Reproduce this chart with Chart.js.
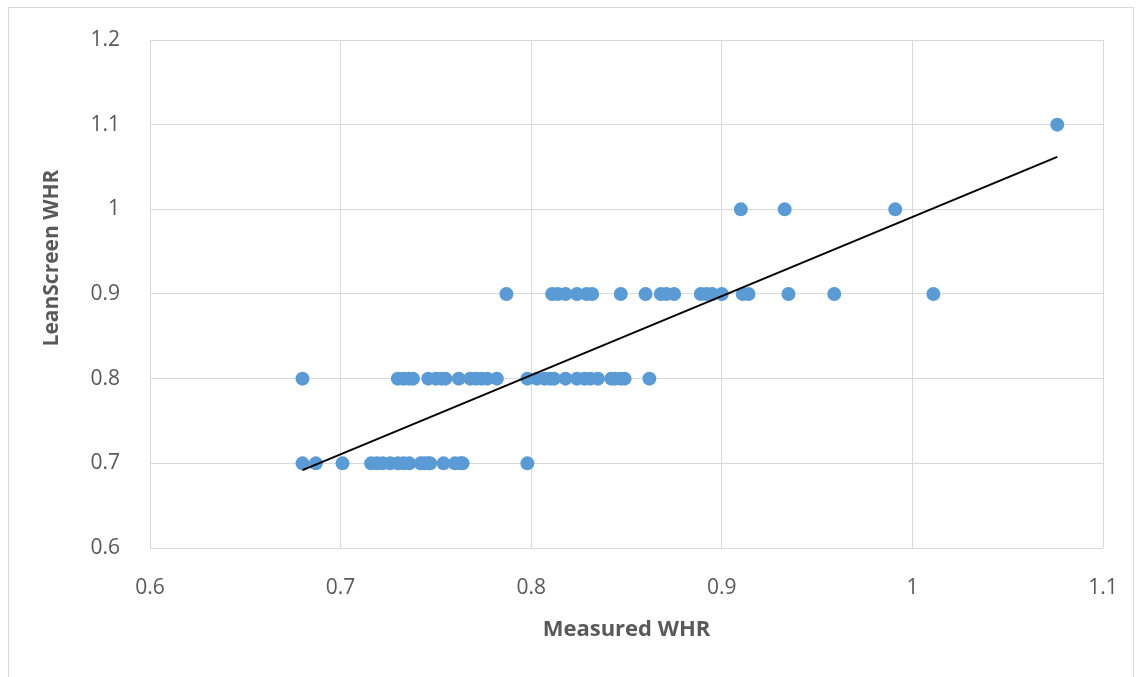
<!DOCTYPE html>
<html>
<head>
<meta charset="utf-8">
<script src="https://cdn.jsdelivr.net/npm/chart.js@4/dist/chart.umd.min.js"></script>
<style>
  html, body { margin: 0; padding: 0; background: #fff; }
  #wrap { position: relative; width: 1139px; height: 677px; }
</style>
</head>
<body>
<div id="wrap"><canvas id="chart" width="1139" height="677"></canvas></div>
<script>
// measured WHR (x) and LeanScreen WHR (y), one entry per person
const measuredWHR = [
  0.680, 0.687, 0.701, 0.716, 0.719, 0.722, 0.726, 0.730, 0.733, 0.736,
  0.742, 0.744, 0.746, 0.747, 0.754, 0.760, 0.763, 0.764, 0.798,
  0.680, 0.730, 0.733, 0.736, 0.738, 0.746, 0.750, 0.753, 0.755, 0.762,
  0.768, 0.771, 0.774, 0.777, 0.782, 0.798, 0.803, 0.807, 0.810, 0.812,
  0.818, 0.824, 0.828, 0.831, 0.835, 0.842, 0.844, 0.847, 0.849, 0.862,
  0.787, 0.811, 0.814, 0.818, 0.824, 0.829, 0.832, 0.847, 0.860, 0.868,
  0.871, 0.875, 0.889, 0.892, 0.895, 0.900, 0.911, 0.914, 0.935, 0.959, 1.011,
  0.910, 0.933, 0.991,
  1.076
];
const leanScreenWHR = [
  0.7, 0.7, 0.7, 0.7, 0.7, 0.7, 0.7, 0.7, 0.7, 0.7,
  0.7, 0.7, 0.7, 0.7, 0.7, 0.7, 0.7, 0.7, 0.7,
  0.8, 0.8, 0.8, 0.8, 0.8, 0.8, 0.8, 0.8, 0.8, 0.8,
  0.8, 0.8, 0.8, 0.8, 0.8, 0.8, 0.8, 0.8, 0.8, 0.8,
  0.8, 0.8, 0.8, 0.8, 0.8, 0.8, 0.8, 0.8, 0.8, 0.8,
  0.9, 0.9, 0.9, 0.9, 0.9, 0.9, 0.9, 0.9, 0.9, 0.9,
  0.9, 0.9, 0.9, 0.9, 0.9, 0.9, 0.9, 0.9, 0.9, 0.9, 0.9,
  1.0, 1.0, 1.0,
  1.1
];

// linear trendline end points
const trendX = [0.680, 1.076];
const trendY = [0.692, 1.062];

const xTicks = [0.6, 0.7, 0.8, 0.9, 1, 1.1];
const yTicks = [0.6, 0.7, 0.8, 0.9, 1, 1.1, 1.2];

const textColor = '#595959';
const gridColor = '#d9d9d9';

const points = measuredWHR.map((x, i) => ({ x, y: leanScreenWHR[i] }));
const trend = trendX.map((x, i) => ({ x, y: trendY[i] }));

// outer frame + y title placed like the original
const frame = {
  id: 'frame',
  beforeDraw(chart) {
    const ctx = chart.ctx;
    ctx.save();
    ctx.fillStyle = '#fff';
    ctx.fillRect(0, 0, chart.width, chart.height);
    ctx.strokeStyle = gridColor;
    ctx.lineWidth = 1;
    ctx.strokeRect(8.5, 7.5, 1125, 700);
    ctx.restore();
  },
  afterDraw(chart) {
    const ctx = chart.ctx;
    ctx.save();
    ctx.translate(52, 258);
    ctx.rotate(-Math.PI / 2);
    ctx.fillStyle = textColor;
    ctx.font = 'bold 21px "Open Sans"';
    ctx.textAlign = 'center';
    ctx.textBaseline = 'middle';
    ctx.fillText('LeanScreen WHR', 0, 0);
    ctx.restore();
  }
};

new Chart(document.getElementById('chart'), {
  type: 'scatter',
  data: {
    datasets: [
      {
        label: 'Trend',
        data: trend,
        type: 'line',
        showLine: true,
        borderColor: '#000',
        borderWidth: 2,
        pointRadius: 0,
        fill: false,
        order: 0
      },
      {
        label: 'WHR',
        data: points,
        backgroundColor: '#5b9bd5',
        borderWidth: 0,
        pointRadius: 7,
        pointHoverRadius: 7,
        order: 1
      }
    ]
  },
  options: {
    responsive: false,
    animation: false,
    layout: { padding: { top: 40, right: 36, left: 0, bottom: 0 } },
    plugins: {
      legend: { display: false },
      tooltip: { enabled: false }
    },
    scales: {
      x: {
        type: 'linear',
        min: 0.6,
        max: 1.1,
        afterBuildTicks: (s) => { s.ticks = xTicks.map(v => ({ value: v })); },
        afterFit: (s) => {
          s.height = 129;
          s.paddingLeft = 0;
          s.paddingRight = 0;
        },
        border: { display: false },
        grid: { color: gridColor, drawTicks: false },
        ticks: {
          color: textColor,
          padding: 27,
          font: { family: 'Open Sans', size: 21 },
          callback: (v) => String(Math.round(v * 10) / 10)
        },
        title: {
          display: true,
          text: 'Measured WHR',
          color: textColor,
          font: { family: 'Open Sans', size: 22, weight: 'bold' },
          padding: { bottom: 34, top: 0 }
        }
      },
      y: {
        type: 'linear',
        min: 0.6,
        max: 1.2,
        afterBuildTicks: (s) => { s.ticks = yTicks.map(v => ({ value: v })); },
        afterFit: (s) => {
          s.width = 150;
          s.paddingTop = 0;
          s.paddingBottom = 0;
        },
        border: { display: false },
        grid: { color: gridColor, drawTicks: false },
        ticks: {
          color: textColor,
          padding: 30,
          font: { family: 'Open Sans', size: 21 },
          callback: (v) => String(Math.round(v * 10) / 10)
        }
      }
    }
  },
  plugins: [frame]
});
</script>
</body>
</html>
